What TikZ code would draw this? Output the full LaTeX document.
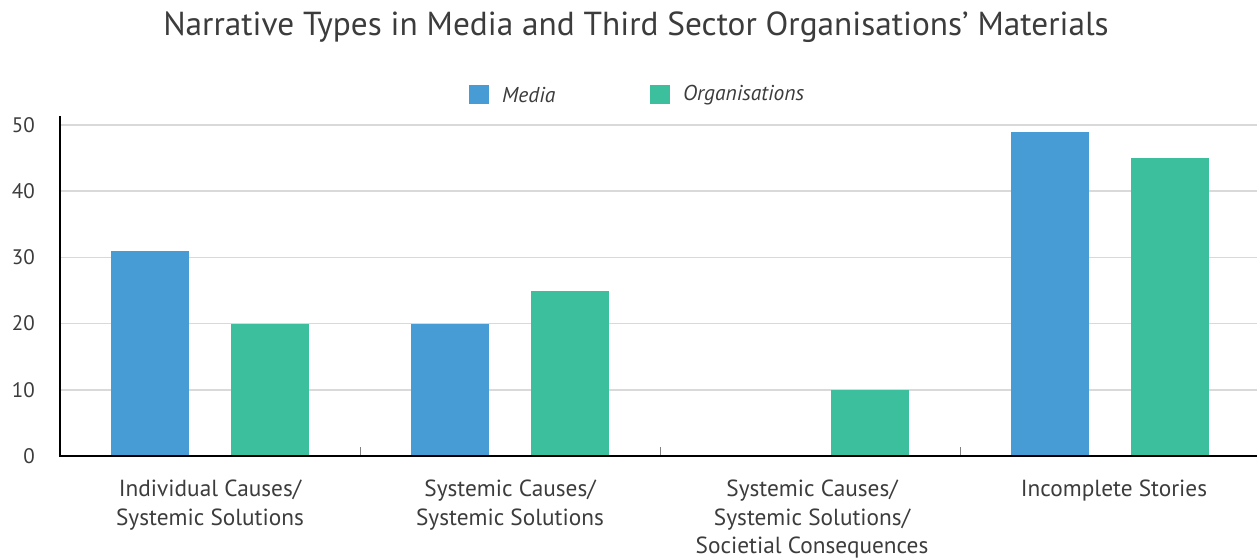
\documentclass[tikz,border=0pt]{standalone}
\usepackage{fontspec}
\setmainfont{PT Sans}
\definecolor{txt}{HTML}{3C3C3C}
\definecolor{media}{HTML}{479CD5}
\definecolor{orgs}{HTML}{3BBF9C}
\definecolor{grid}{HTML}{D9D9D9}
\begin{document}
\begin{tikzpicture}[x=1pt,y=-1pt,
  ylab/.style={anchor=east,text=txt,font=\fontsize{21}{21}\selectfont,inner sep=0pt},
  catlab/.style={anchor=north,text=txt,align=center,font=\fontsize{23.3}{28.5}\selectfont,inner sep=0pt},
  leglab/.style={anchor=west,text=txt,font=\fontsize{21.5}{21.5}\itshape,inner sep=0pt},
  mbar/.style={fill=media},
  obar/.style={fill=orgs},
  gridline/.style={draw=grid,line width=1.5pt}]
\useasboundingbox (0,0) rectangle (1257,559);
% title
\node[text=txt,font=\fontsize{33.3}{33.3}\selectfont] (title) at (636,27) {Narrative Types in Media and Third Sector Organisations’ Materials};
% legend
\fill[media] (469,85) rectangle (489,104);
\node[leglab] (lm) at (502,95) {Media};
\fill[orgs] (650,85) rectangle (670,104);
\node[leglab] (lo) at (683,95) {Organisations};
% grid
\foreach \v/\y in {10/389.8,20/323.6,30/257.4,40/191.2,50/125} {
  \draw[gridline] (61,\y) -- (1257,\y);
  \node[ylab] (y\v) at (35,\y) {\v};
}
\node[ylab] (y0) at (35,456) {0};
% bars
\fill[mbar] (111,456) rectangle (189,250.8);
\fill[obar] (231,456) rectangle (309,323.6);
\fill[mbar] (411,456) rectangle (489,323.6);
\fill[obar] (531,456) rectangle (609,290.5);
\fill[obar] (831,456) rectangle (909,389.8);
\fill[mbar] (1011,456) rectangle (1089,131.6);
\fill[obar] (1131,456) rectangle (1209,158);
% ticks
\foreach \x in {360,660,960} \draw[gray,line width=1pt] (\x,447) -- (\x,456);
% axes
\draw[black,line width=2pt] (60,116) -- (60,456) -- (1257,456);
% category labels
\node[catlab] (c1) at (210,480) {Individual Causes/\\Systemic Solutions};
\node[catlab] (c2) at (510,480) {Systemic Causes/\\Systemic Solutions};
\node[catlab] (c3) at (812,480) {Systemic Causes/\\Systemic Solutions/\\Societial Consequences};
\node[catlab] (c4) at (1114,480) {Incomplete Stories};
\end{tikzpicture}
\end{document}
